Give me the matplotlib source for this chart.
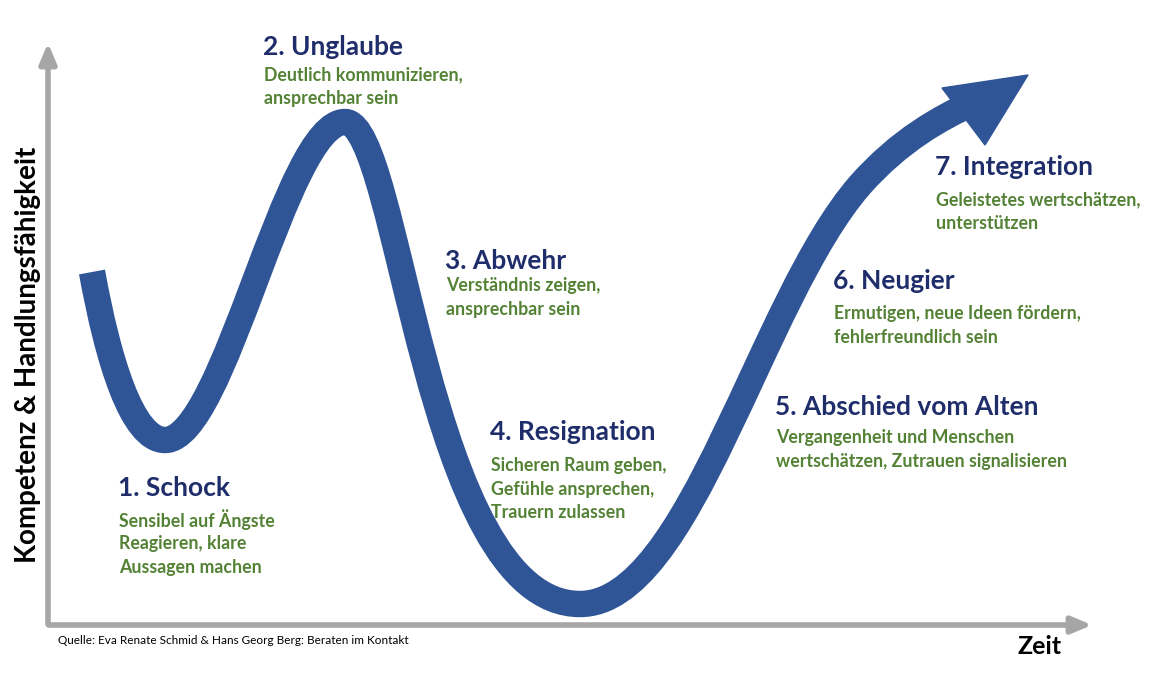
import matplotlib.pyplot as plt
from matplotlib.path import Path
from matplotlib.patches import PathPatch, Polygon

plt.rcParams['font.family'] = ['Lato', 'DejaVu Sans']

# curve as cubic bezier: start, then (ctrl1, ctrl2, end) per segment (pixel space)
curve_start = (92, 272)
curve_segments = [
    ((108, 360), (132, 440), (165, 440)),
    ((225, 440), (285, 122), (345, 122)),
    ((400, 122), (425, 604), (580, 604)),
    ((690, 604), (760, 300), (860, 185)),
    ((900, 140), (940, 118), (975, 102)),
]
arrow_head = [(942, 88), (1028, 75), (985, 145)]

titles = ["1. Schock", "2. Unglaube", "3. Abwehr", "4. Resignation",
          "5. Abschied vom Alten", "6. Neugier", "7. Integration"]
subtexts = [
    ["Sensibel auf Ängste", "Reagieren, klare", "Aussagen machen"],
    ["Deutlich kommunizieren,", "ansprechbar sein"],
    ["Verständnis zeigen,", "ansprechbar sein"],
    ["Sicheren Raum geben,", "Gefühle ansprechen,", "Trauern zulassen"],
    ["Vergangenheit und Menschen", "wertschätzen, Zutrauen signalisieren"],
    ["Ermutigen, neue Ideen fördern,", "fehlerfreundlich sein"],
    ["Geleistetes wertschätzen,", "unterstützen"],
]
title_pos = [(118, 488), (263, 47), (445, 261), (490, 432), (775, 407), (833, 281), (935, 167)]
sub_first_y = [520, 75, 286, 466, 438, 314, 200]

fig = plt.figure(figsize=(11.63, 6.80), dpi=100)
ax = fig.add_axes([0, 0, 1, 1])
ax.set_xlim(0, 1163)
ax.set_ylim(680, 0)
ax.axis('off')

grey = '#A6A6A6'
ax.annotate('', xy=(48, 40), xytext=(48, 627),
            arrowprops=dict(arrowstyle='-|>,head_width=0.5,head_length=1.2', color=grey, lw=4))
ax.annotate('', xy=(1095, 625), xytext=(46, 625),
            arrowprops=dict(arrowstyle='-|>,head_width=0.5,head_length=1.2', color=grey, lw=4))

verts = [curve_start]
codes = [Path.MOVETO]
for seg in curve_segments:
    verts += list(seg)
    codes += [Path.CURVE4] * 3
blue = '#2F5597'
ax.add_patch(PathPatch(Path(verts, codes), fill=False, edgecolor=blue, lw=19, capstyle='butt'))
ax.add_patch(Polygon(arrow_head, closed=True, color=blue))

navy = '#1F2D6B'
green = '#548235'
for t, (x, y), subs, sy in zip(titles, title_pos, subtexts, sub_first_y):
    ax.text(x, y, t, color=navy, fontsize=19, fontweight='bold', va='center', ha='left')
    for i, s in enumerate(subs):
        ax.text(x + 1, sy + i * 23.5, s, color=green, fontsize=12.8, fontweight='bold',
                va='center', ha='left')

ax.text(28, 355, "Kompetenz & Handlungsfähigkeit", rotation=90, fontsize=20,
        fontweight='bold', va='center', ha='center', color='black')
ax.text(1040, 646, "Zeit", fontsize=18, fontweight='bold', va='center', ha='center')
ax.text(58, 641, "Quelle: Eva Renate Schmid & Hans Georg Berg: Beraten im Kontakt",
        fontsize=8.5, va='center', ha='left')

fig.savefig('out.png', dpi=100)
